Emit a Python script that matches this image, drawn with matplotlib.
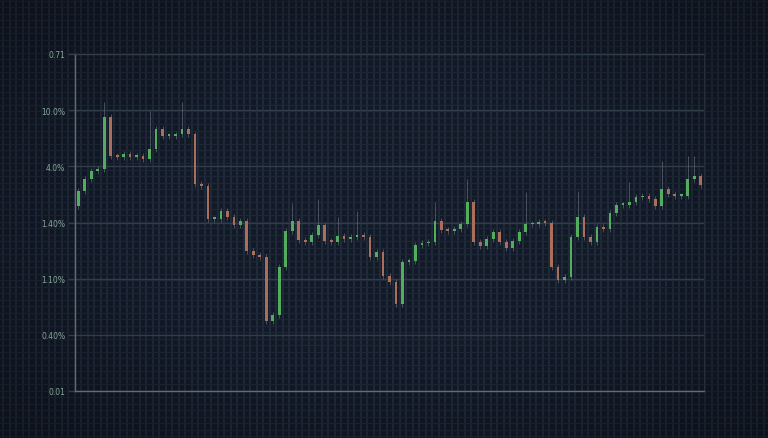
import matplotlib
matplotlib.use("Agg")
import matplotlib.pyplot as plt
import numpy as np

# candle closes (open of each candle = previous close)
first_open = 32.9
closes = [35.6, 37.7, 39.2, 39.5, 48.8, 41.8, 41.7, 42.2, 41.7, 41.8,
          41.3, 43.1, 46.6, 45.4, 45.4, 45.7, 46.6, 45.7, 36.8, 36.5,
          30.6, 30.6, 32.0, 31.0, 29.5, 30.3, 24.9, 24.2, 23.9, 12.5,
          13.5, 22.1, 28.5, 30.3, 26.9, 26.5, 27.8, 29.5, 26.7, 26.5,
          27.6, 27.1, 27.4, 27.8, 27.4, 23.9, 24.7, 20.5, 19.4, 15.5,
          23.0, 23.1, 26.0, 26.3, 26.5, 30.3, 28.7, 28.5, 28.8, 29.7,
          33.6, 26.5, 25.8, 27.1, 28.3, 26.5, 25.5, 26.7, 28.3, 29.7,
          29.7, 30.1, 29.9, 22.1, 19.8, 20.3, 27.4, 31.0, 27.4, 26.5,
          29.2, 28.8, 31.7, 33.1, 33.1, 33.6, 34.5, 34.7, 34.2, 32.9,
          36.0, 35.1, 34.7, 34.7, 37.7, 38.3, 36.7]

# candles with long upper wicks: index -> high
tall_highs = {4: 51.4, 11: 49.8, 16: 51.4, 33: 33.5, 37: 34.2, 40: 31.0,
              43: 32.0, 55: 33.6, 60: 37.7, 69: 35.4, 77: 35.6, 85: 37.2,
              90: 40.9, 94: 41.8, 95: 41.8}
wick_pad = 0.5

tick_vals = [0, 10, 20, 30, 40, 50, 60]
tick_labels = ["0.01", "0.40%", "1.10%", "1.40%", "4.0%", "10.0%", "0.71"]

BG = "#121a28"
VFINE = "#26303f"
HFINE = "#1e2737"
MAJOR = "#2f3e48"
SPINE = "#5d6f72"
TXT = "#86a699"
UP = "#52ad5e"
DOWN = "#ab6e5b"
WICK = "#5f6a76"

W, H = 768, 439
fig = plt.figure(figsize=(W / 100, H / 100), dpi=100, facecolor=BG)

# background with fine grid and a soft vignette
bg = fig.add_axes([0, 0, 1, 1])
bg.set_xlim(0, W)
bg.set_ylim(0, H)
bg.set_facecolor(BG)
bg.axis("off")
for gx in np.arange(3, W, 6.5):
    bg.axvline(gx, color=VFINE, lw=1.1, zorder=1)
for gy in np.arange(2, H, 6.5):
    bg.axhline(gy, color=HFINE, lw=0.9, zorder=1)
yy, xx = np.mgrid[0:H:4, 0:W:4]
r = np.sqrt(((xx - W / 2) / (W / 2)) ** 2 + ((yy - H / 2) / (H / 2)) ** 2)
shade = np.clip((r - 0.6) / 0.9, 0, 1)
rgba = np.zeros(shade.shape + (4,))
rgba[..., 3] = shade * 0.35
bg.imshow(rgba, extent=[0, W, 0, H], aspect="auto", zorder=2)

# main chart axes
left, right, top, bottom = 75, 704, 55, 392
ax = fig.add_axes([left / W, 1 - bottom / H, (right - left) / W, (bottom - top) / H])
ax.patch.set_alpha(0)

n = len(closes)
x = np.arange(n)
opens = [first_open] + closes[:-1]
body_w = 0.42
for i in range(n):
    o, c = opens[i], closes[i]
    hi = tall_highs.get(i, max(o, c) + wick_pad)
    lo = min(o, c) - wick_pad
    col = UP if c >= o else DOWN
    ax.vlines(x[i], lo, hi, color=WICK, lw=0.7, alpha=0.7, zorder=3)
    h = max(abs(c - o), 0.3)
    ax.bar(x[i], h, bottom=min(o, c), width=body_w, color=col,
           edgecolor="none", zorder=4)

ax.set_xlim(-0.5, n - 0.5)
ax.set_ylim(0, 60)
ax.set_yticks(tick_vals)
ax.set_yticklabels(tick_labels)
ax.set_xticks([])
ax.grid(axis="y", color=MAJOR, lw=1.0)
ax.set_axisbelow(True)
ax.tick_params(axis="y", length=5, width=1, color=MAJOR, labelcolor=TXT,
               labelsize=5.5, pad=2)
for side in ["left", "bottom"]:
    ax.spines[side].set_color(SPINE)
    ax.spines[side].set_linewidth(1.0)
ax.spines["top"].set_color(MAJOR)
ax.spines["right"].set_color("#232e3a")

fig.savefig("out.png", dpi=100, facecolor=BG)
